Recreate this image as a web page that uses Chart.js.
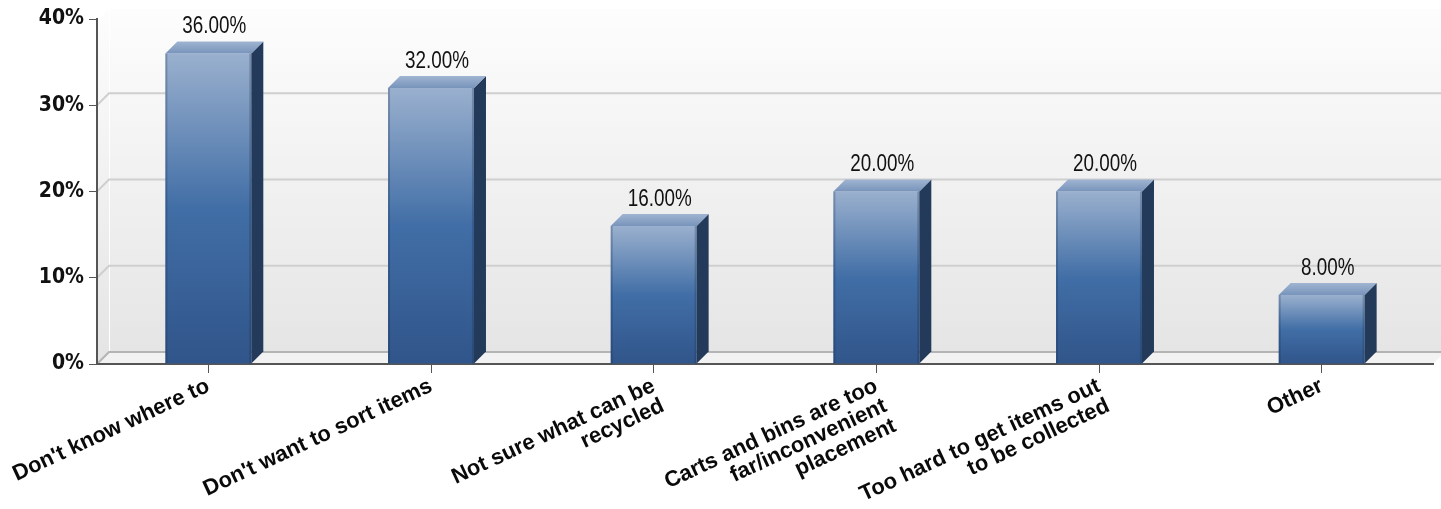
<!DOCTYPE html>
<html lang="en">
<head>
  <meta charset="UTF-8">
  <title>Reasons for not recycling</title>
  <script src="https://cdn.jsdelivr.net/npm/chart.js@4.4.0/dist/chart.umd.min.js"></script>
  <style>
    html, body { margin: 0; padding: 0; background: #fff; }
    #wrap { width: 1441px; height: 509px; }
  </style>
</head>
<body>
  <div id="wrap"><canvas id="chart" width="1441" height="509"></canvas></div>
  <script>
    // data
    const categories = [
      ["Don't know where to"],
      ["Don't want to sort items"],
      ["Not sure what can be", "recycled"],
      ["Carts and bins are too", "far/inconvenient", "placement"],
      ["Too hard to get items out", "to be collected"],
      ["Other"]
    ];
    const values = [36, 32, 16, 20, 20, 8];
    const yTicks = [0, 10, 20, 30, 40];

    const DEPTH = 12;
    const narrow = "'Liberation Sans Narrow', 'DejaVu Sans Condensed', 'Liberation Sans', Arial, sans-serif";
    const wide = "'Liberation Sans', Arial, sans-serif";

    // back wall, left wall, floor and wall gridlines
    const wallPlugin = {
      id: 'wall',
      beforeDraw(chart) {
        const { ctx, chartArea } = chart;
        const { left, right, top, bottom } = chartArea;
        const ys = chart.scales.y;
        const d = DEPTH;
        ctx.save();
        const g = ctx.createLinearGradient(0, top - d, 0, bottom);
        g.addColorStop(0, '#fdfdfd');
        g.addColorStop(1, '#e4e4e4');
        ctx.fillStyle = g;
        ctx.fillRect(left + d, top - d + 2, right - left, bottom - top);
        // left wall
        ctx.beginPath();
        ctx.moveTo(left, top + 2);
        ctx.lineTo(left + d, top - d + 2);
        ctx.lineTo(left + d, bottom - d);
        ctx.lineTo(left, bottom);
        ctx.closePath();
        ctx.fill();
        ctx.strokeStyle = '#ffffff';
        ctx.lineWidth = 1;
        ctx.beginPath();
        ctx.moveTo(left + d + 0.5, top - d + 2);
        ctx.lineTo(left + d + 0.5, bottom - d);
        ctx.stroke();
        // gridlines
        ctx.strokeStyle = '#cfcfcf';
        ctx.lineWidth = 2;
        yTicks.forEach(v => {
          if (v === 0 || v === yTicks[yTicks.length - 1]) return;
          const y = ys.getPixelForValue(v);
          ctx.beginPath();
          ctx.moveTo(left, y);
          ctx.lineTo(left + d, y - d);
          ctx.lineTo(right + d, y - d);
          ctx.stroke();
        });
        // floor
        ctx.fillStyle = '#f2f2f2';
        ctx.beginPath();
        ctx.moveTo(left, bottom);
        ctx.lineTo(left + d, bottom - d);
        ctx.lineTo(right + d, bottom - d);
        ctx.lineTo(right, bottom);
        ctx.closePath();
        ctx.fill();
        ctx.strokeStyle = '#b4b4b4';
        ctx.lineWidth = 2;
        ctx.beginPath();
        ctx.moveTo(left, bottom);
        ctx.lineTo(left + d, bottom - d);
        ctx.lineTo(right + d, bottom - d);
        ctx.stroke();
        ctx.restore();
      }
    };

    // side and top faces of the bars, plus value labels
    const boxPlugin = {
      id: 'box',
      afterDatasetsDraw(chart) {
        const { ctx } = chart;
        const d = DEPTH;
        const meta = chart.getDatasetMeta(0);
        ctx.save();
        meta.data.forEach((bar, i) => {
          const { x, y, base, width } = bar.getProps(['x', 'y', 'base', 'width'], true);
          const l = x - width / 2, r = x + width / 2;
          ctx.fillStyle = '#233a5a';
          ctx.beginPath();
          ctx.moveTo(r, y);
          ctx.lineTo(r + d, y - d);
          ctx.lineTo(r + d, base - d);
          ctx.lineTo(r, base);
          ctx.closePath();
          ctx.fill();
          const tg = ctx.createLinearGradient(0, y - d, 0, y);
          tg.addColorStop(0, '#9fb4d1');
          tg.addColorStop(1, '#7894bb');
          ctx.fillStyle = tg;
          ctx.beginPath();
          ctx.moveTo(l, y);
          ctx.lineTo(l + d, y - d);
          ctx.lineTo(r + d, y - d);
          ctx.lineTo(r, y);
          ctx.closePath();
          ctx.fill();
          // faint edge shading on the front face
          ctx.strokeStyle = 'rgba(20,40,70,0.25)';
          ctx.lineWidth = 2;
          ctx.beginPath();
          ctx.moveTo(l + 1, y);
          ctx.lineTo(l + 1, base);
          ctx.moveTo(r - 1, y);
          ctx.lineTo(r - 1, base);
          ctx.stroke();
          // value label, squeezed to look condensed
          ctx.save();
          ctx.translate(x + d / 2, y - d - 3);
          ctx.scale(0.82, 1);
          ctx.fillStyle = '#111';
          ctx.font = '23px ' + wide;
          ctx.textAlign = 'center';
          ctx.textBaseline = 'bottom';
          ctx.fillText(values[i].toFixed(2) + '%', 0, 0);
          ctx.restore();
        });
        ctx.restore();
      }
    };

    new Chart(document.getElementById('chart'), {
      type: 'bar',
      data: {
        labels: categories,
        datasets: [{
          data: values,
          barPercentage: 0.386,
          categoryPercentage: 1,
          borderWidth: 0,
          backgroundColor: (c) => {
            const chart = c.chart;
            if (!chart.chartArea) return '#3d6aa2';
            const ys = chart.scales.y;
            const top = ys.getPixelForValue(c.raw);
            const base = ys.getPixelForValue(0);
            const g = chart.ctx.createLinearGradient(0, top, 0, base);
            g.addColorStop(0, '#9ab0ce');
            g.addColorStop(0.5, '#416ea6');
            g.addColorStop(1, '#30558a');
            return g;
          }
        }]
      },
      options: {
        responsive: false,
        animation: false,
        layout: { padding: { top: 19, right: 8, left: 0, bottom: 0 } },
        plugins: { legend: { display: false }, tooltip: { enabled: false } },
        scales: {
          x: {
            afterFit: (s) => { s.height = 145; },
            grid: { display: true, drawOnChartArea: false, drawTicks: true, tickLength: 9, offset: false, color: '#555', lineWidth: 1 },
            border: { display: true, color: '#555', width: 2 },
            ticks: {
              autoSkip: false, minRotation: 25, maxRotation: 25, padding: 2,
              color: '#0a0a0a', font: { family: wide, size: 22, weight: 'bold', lineHeight: 1.0 }
            }
          },
          y: {
            min: 0, max: 40,
            afterFit: (s) => { s.width = 97; },
            afterBuildTicks: (s) => { s.ticks = yTicks.map(v => ({ value: v })); },
            grid: { display: true, drawOnChartArea: false, drawTicks: true, tickLength: 8, color: '#555' },
            border: { display: true, color: '#555', width: 2 },
            ticks: {
              padding: 5, color: '#111',
              font: { family: narrow, size: 21, weight: 'bold' },
              callback: (v) => v + '%'
            }
          }
        }
      },
      plugins: [wallPlugin, boxPlugin]
    });
  </script>
</body>
</html>
